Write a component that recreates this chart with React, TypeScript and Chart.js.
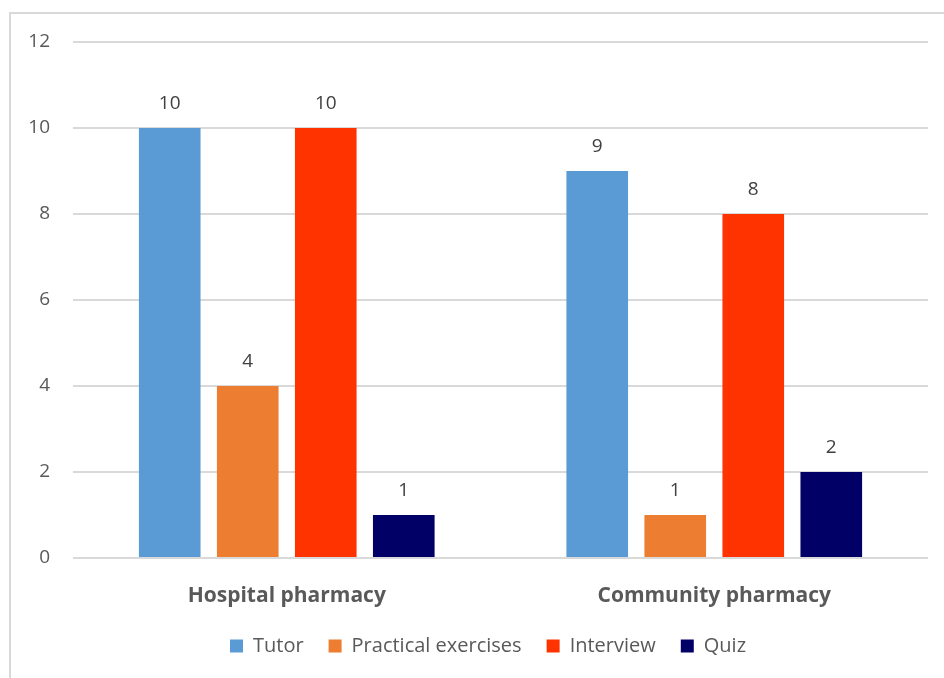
import React, { useEffect, useRef } from "react";
import { Chart, registerables } from "chart.js";

Chart.register(...registerables);

const categories = ["Hospital pharmacy", "Community pharmacy"];
const seriesNames = ["Tutor", "Practical exercises", "Interview", "Quiz"];
const tutor = [10, 9];
const practical = [4, 1];
const interview = [10, 8];
const quiz = [1, 2];
const seriesColors = ["#5B9BD5", "#ED7D31", "#FF3300", "#000066"];
const yTicks = [0, 2, 4, 6, 8, 10, 12];

const FONT = "'Open Sans', 'Liberation Sans', sans-serif";

const valueLabels = {
  id: "valueLabels",
  afterDatasetsDraw(chart: any) {
    const ctx = chart.ctx;
    ctx.save();
    ctx.font = `19px ${FONT}`;
    ctx.fillStyle = "#404040";
    ctx.textAlign = "center";
    ctx.textBaseline = "middle";
    chart.data.datasets.forEach((ds: any, i: number) => {
      const meta = chart.getDatasetMeta(i);
      meta.data.forEach((bar: any, j: number) => {
        ctx.fillText(String(ds.data[j]), bar.x, bar.y - 24);
      });
    });
    ctx.restore();
  },
};

const legendShift = {
  id: "legendShift",
  afterLayout(chart: any) {
    if (chart.legend) {
      chart.legend.left += 48;
    }
  },
};

export default function App() {
  const ref = useRef<HTMLCanvasElement>(null);
  useEffect(() => {
    const values = [tutor, practical, interview, quiz];
    const chart = new Chart(ref.current!, {
      type: "bar",
      data: {
        labels: categories,
        datasets: seriesNames.map((name, i) => ({
          label: name,
          data: values[i],
          backgroundColor: seriesColors[i],
          borderWidth: 0,
          barPercentage: 0.79,
          categoryPercentage: 0.73,
        })),
      },
      options: {
        animation: false,
        responsive: true,
        maintainAspectRatio: false,
        layout: { padding: { left: 0, right: 16, top: 42, bottom: 12 } },
        plugins: {
          tooltip: { enabled: false },
          legend: {
            position: "bottom",
            labels: {
              boxWidth: 13,
              boxHeight: 13,
              padding: 25,
              color: "#595959",
              font: { family: FONT, size: 20 },
            },
          },
        },
        scales: {
          x: {
            grid: { display: false, drawTicks: false },
            border: { display: false },
            ticks: {
              color: "#595959",
              padding: 25,
              font: { family: FONT, size: 21, weight: "bold" },
            },
            afterFit: (s: any) => {
              s.height = 53;
            },
          },
          y: {
            min: 0,
            max: 12,
            afterBuildTicks: (s: any) => {
              s.ticks = yTicks.map((v) => ({ value: v }));
            },
            grid: { color: "#d9d9d9", lineWidth: 2, drawTicks: false },
            border: { display: false },
            ticks: {
              color: "#595959",
              padding: 23,
              font: { family: FONT, size: 19 },
            },
            afterFit: (s: any) => {
              s.width = 73;
            },
          },
        },
      },
      plugins: [valueLabels, legendShift],
    });
    return () => chart.destroy();
  }, []);

  return (
    <div style={{ position: "absolute", left: 0, top: 0, width: 944, height: 678, overflow: "hidden", background: "#fff" }}>
      <div
        style={{
          position: "absolute",
          left: 9,
          top: 12,
          width: 1000,
          height: 1000,
          border: "2px solid #d9d9d9",
        }}
      />
      <div style={{ position: "absolute", left: 0, top: 0, width: 944, height: 678 }}>
        <canvas ref={ref} />
      </div>
    </div>
  );
}
